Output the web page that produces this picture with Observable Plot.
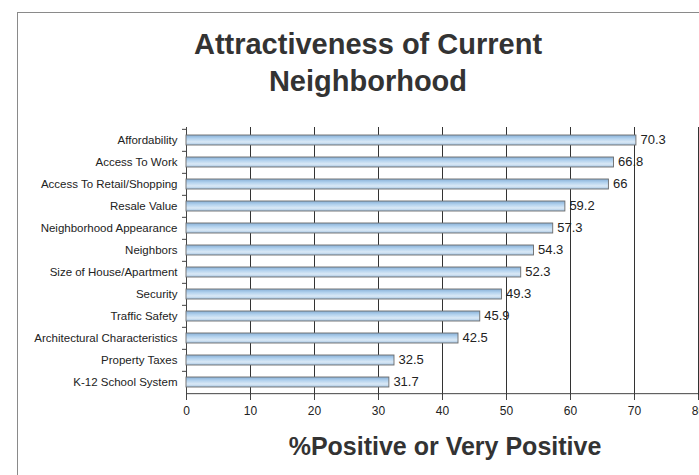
<!DOCTYPE html>
<html>
<head>
<meta charset="utf-8">
<script src="https://cdn.jsdelivr.net/npm/d3@7"></script>
<script src="https://cdn.jsdelivr.net/npm/@observablehq/plot@0.6"></script>
<style>
  html, body { margin: 0; padding: 0; background: #fff; }
  #wrap { position: relative; width: 699px; height: 475px; overflow: hidden; font-family: "Liberation Sans", Arial, sans-serif; }
  #frame { position: absolute; left: 17px; top: 12px; width: 800px; height: 600px; border-left: 1.5px solid #8a8a8a; border-top: 1.5px solid #8a8a8a; }
  #title { position: absolute; left: 68px; width: 600px; top: 26px; text-align: center; font-weight: bold; font-size: 29px; line-height: 37px; color: #333; }
  #xlabel { position: absolute; left: 195px; width: 500px; top: 431px; text-align: center; font-weight: bold; font-size: 25px; line-height: 30px; color: #333; }
  #chart { position: absolute; left: 0; top: 0; }
</style>
</head>
<body>
<div id="wrap">
  <div id="frame"></div>
  <div id="chart"></div>
  <div id="title">Attractiveness of Current<br>Neighborhood</div>
  <div id="xlabel">%Positive or Very Positive</div>
</div>
<script>
const categories = [
  "Affordability",
  "Access To Work",
  "Access To Retail/Shopping",
  "Resale Value",
  "Neighborhood Appearance",
  "Neighbors",
  "Size of House/Apartment",
  "Security",
  "Traffic Safety",
  "Architectural Characteristics",
  "Property Taxes",
  "K-12 School System"
];
const values = [70.3, 66.8, 66, 59.2, 57.3, 54.3, 52.3, 49.3, 45.9, 42.5, 32.5, 31.7];
const xTicks = [0, 10, 20, 30, 40, 50, 60, 70, 80];

const data = categories.map((c, i) => ({category: c, value: values[i]}));

const W = 699, H = 475;
const mTop = 127, mBottom = 80, mLeft = 186, mRight = 1;
const step = (H - mTop - mBottom) / categories.length;
const pxPerUnit = (W - mLeft - mRight) / 80;
const tickLen = 4 / pxPerUnit;

const chart = Plot.plot({
  width: W,
  height: H,
  marginTop: mTop,
  marginBottom: mBottom,
  marginLeft: mLeft,
  marginRight: mRight,
  style: { fontFamily: "'Liberation Sans', Arial, sans-serif", background: "transparent", color: "#222" },
  x: { domain: [0, 80], ticks: xTicks },
  y: { domain: categories, paddingInner: 0.55, paddingOuter: 0.275 },
  marks: [
    Plot.ruleX(xTicks.slice(1), { stroke: "#333", strokeWidth: 1 }),
    Plot.ruleX([0], { stroke: "#444", strokeWidth: 1 }),
    Plot.ruleY([categories[categories.length - 1]], { dy: step / 2, stroke: "#444", strokeWidth: 1 }),
    Plot.ruleY(categories, { x1: -tickLen, x2: 0, dy: -step / 2, stroke: "#444", strokeWidth: 1 }),
    Plot.barX(data, {
      x: "value",
      y: "category",
      fill: "url(#barGrad)",
      stroke: "#6a6a6a",
      strokeWidth: 0.9
    }),
    Plot.text(data, {
      x: "value",
      y: "category",
      text: d => String(d.value),
      textAnchor: "start",
      dx: 4,
      dy: -1,
      fontSize: 13,
      fill: "#222"
    }),
    Plot.axisX({ ticks: xTicks, tickSize: 5, tickPadding: 6, fontSize: 12, label: null, stroke: "#444", tickFormat: d => String(d) }),
    Plot.axisY({ tickSize: 0, tickPadding: 9, fontSize: 11.5, label: null })
  ]
});

const svgNS = "http://www.w3.org/2000/svg";
const defs = document.createElementNS(svgNS, "defs");
const grad = document.createElementNS(svgNS, "linearGradient");
grad.setAttribute("id", "barGrad");
grad.setAttribute("x1", "0"); grad.setAttribute("y1", "0");
grad.setAttribute("x2", "0"); grad.setAttribute("y2", "1");
[["0%", "#86afd6"], ["35%", "#b3d2ee"], ["70%", "#dbe9f6"], ["100%", "#a6c6e3"]].forEach(([o, c]) => {
  const s = document.createElementNS(svgNS, "stop");
  s.setAttribute("offset", o);
  s.setAttribute("stop-color", c);
  grad.appendChild(s);
});
defs.appendChild(grad);
chart.insertBefore(defs, chart.firstChild);

document.getElementById("chart").appendChild(chart);
</script>
</body>
</html>
